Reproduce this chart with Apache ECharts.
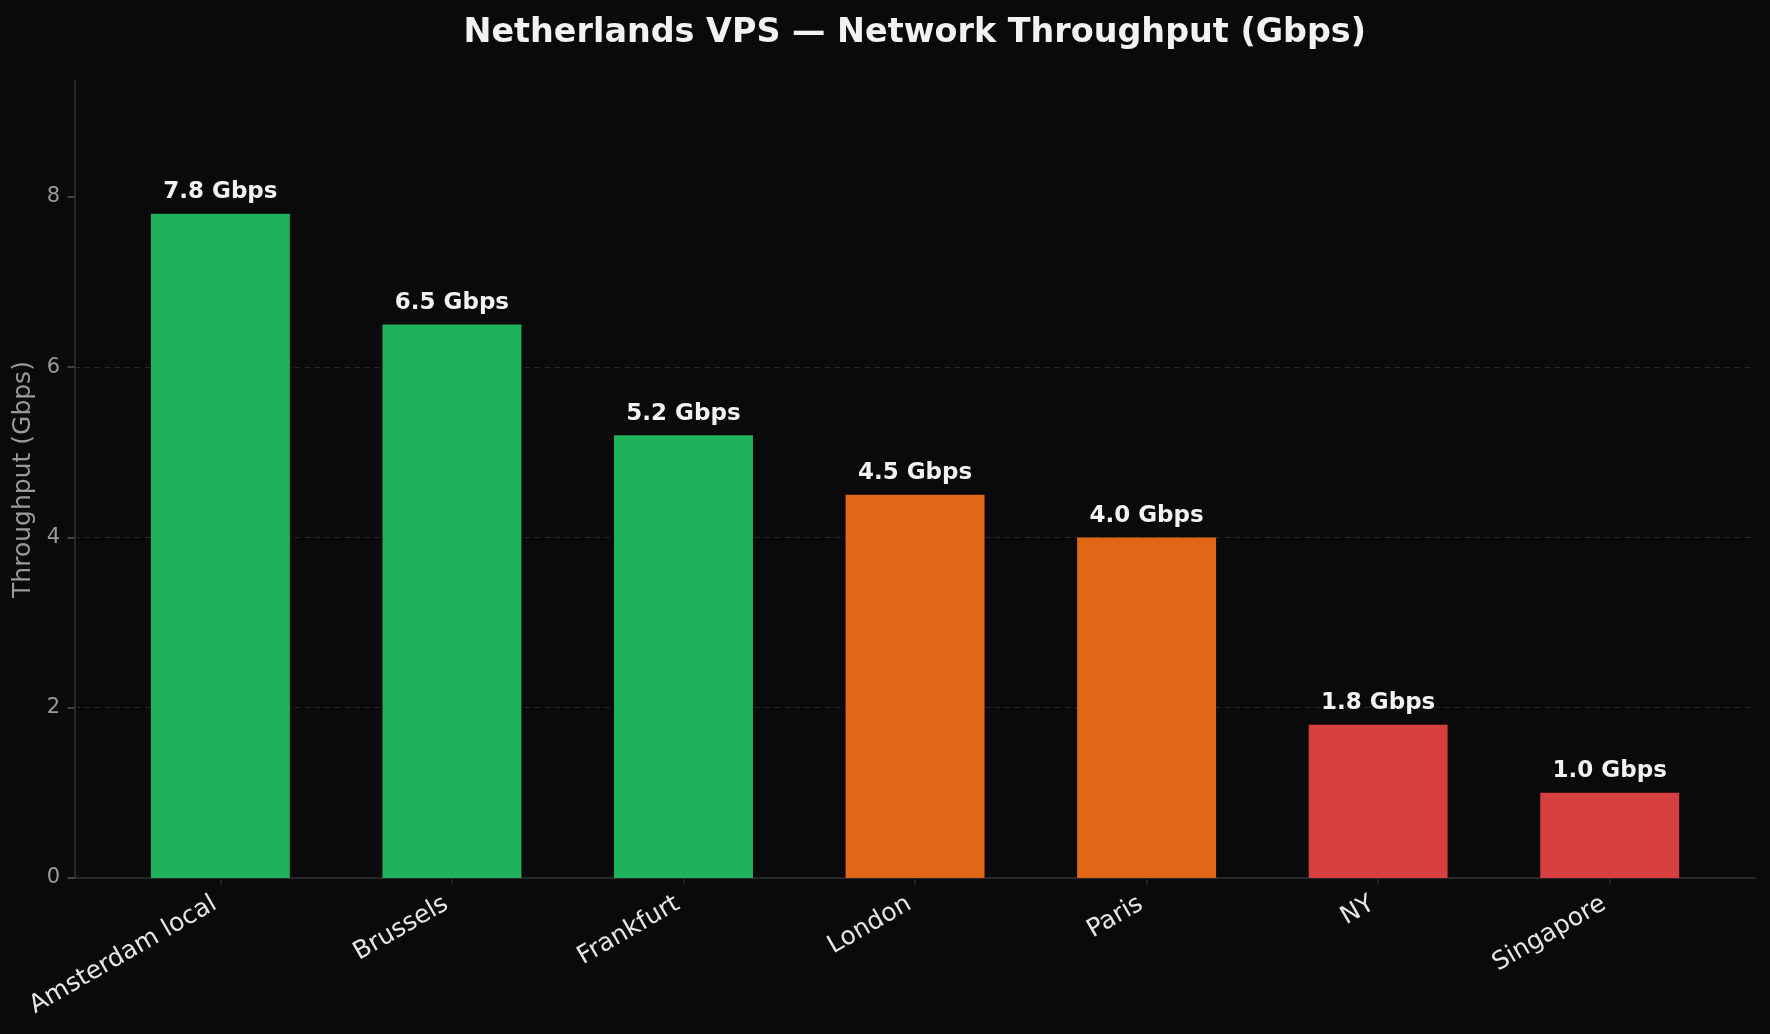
<!DOCTYPE html>
<html>
<head>
<meta charset="utf-8">
<title>Netherlands VPS throughput</title>
<script src="https://cdn.jsdelivr.net/npm/echarts@6/dist/echarts.min.js"></script>
<style>
  html, body { margin: 0; padding: 0; background: #0a0a0c; }
  #main { width: 1770px; height: 1034px; }
</style>
</head>
<body>
<div id="main"></div>
<script>
// data
const cities = ['Amsterdam local', 'Brussels', 'Frankfurt', 'London', 'Paris', 'NY', 'Singapore'];
const throughput = [7.8, 6.5, 5.2, 4.5, 4.0, 1.8, 1.0];
const tiers = ['near', 'near', 'near', 'mid', 'mid', 'far', 'far'];
const yTicks = [0, 2, 4, 6, 8];

const tierColor = { near: '#1fb25a', mid: '#e06716', far: '#d83f3f' };
const yMax = 9.36;
const font = 'DejaVu Sans';

let myChart = echarts.init(document.getElementById('main'));

let option = {
    backgroundColor: '#0a0a0c',
    animation: false,
    title: {
        // centred over the axes box, not the page
        text: 'Netherlands VPS — Network Throughput (Gbps)',
        left: 458.5,
        top: 12,
        textStyle: { color: '#f2f2f2', fontFamily: font, fontWeight: 'bold', fontSize: 33.4 }
    },
    grid: [
        // full axes box (spines, y ticks, grid lines)
        { left: 74.5, right: 14.4, top: 81, bottom: 156, outerBoundsMode: 'none' },
        // inner box where the 7 category bands sit (matplotlib margins)
        { left: 104.6, right: 44.5, top: 81, bottom: 156, outerBoundsMode: 'none' }
    ],
    xAxis: [
        {
            gridIndex: 0, type: 'value', min: 0, max: 1,
            axisLine: { show: true, lineStyle: { color: '#333336', width: 1.5 } },
            axisTick: { show: false }, axisLabel: { show: false }, splitLine: { show: false }
        },
        {
            gridIndex: 1, type: 'category', data: cities,
            axisLine: { show: false },
            axisTick: { show: true, alignWithLabel: true, length: 7, lineStyle: { color: '#262628', width: 1.5 } },
            axisLabel: {
                rotate: 30, margin: 21, padding: [0, 6.5, 0, 0], color: '#e6e6e6',
                fontFamily: font, fontSize: 25
            },
            splitLine: { show: false }
        }
    ],
    yAxis: [
        {
            gridIndex: 0, type: 'value', min: 0, max: yMax, interval: 2,
            name: 'Throughput (Gbps)', nameLocation: 'middle', nameGap: 33,
            nameTextStyle: { color: '#9a9a9a', fontFamily: font, fontSize: 25 },
            axisLine: { show: true, lineStyle: { color: '#333336', width: 1.5 } },
            axisTick: { show: true, length: 7, customValues: yTicks, lineStyle: { color: '#555558', width: 1.5 } },
            axisLabel: { customValues: yTicks, margin: 14.5, color: '#9a9a9a', fontFamily: font, fontSize: 21 },
            splitLine: {
                show: true, showMinLine: false, showMaxLine: false,
                lineStyle: { color: '#262628', type: [6, 4], width: 1.2 }
            }
        },
        { gridIndex: 1, type: 'value', min: 0, max: yMax, show: false }
    ],
    series: [{
        name: 'Throughput',
        type: 'bar',
        xAxisIndex: 1,
        yAxisIndex: 1,
        barWidth: '60%',
        data: throughput.map(function (v, i) {
            return { value: v, itemStyle: { color: tierColor[tiers[i]] } };
        }),
        label: {
            show: true, position: 'top', distance: 10,
            color: '#f2f2f2', fontFamily: font, fontWeight: 'bold', fontSize: 23,
            formatter: function (p) { return p.value.toFixed(1) + ' Gbps'; }
        }
    }]
};

myChart.setOption(option);
</script>
</body>
</html>
